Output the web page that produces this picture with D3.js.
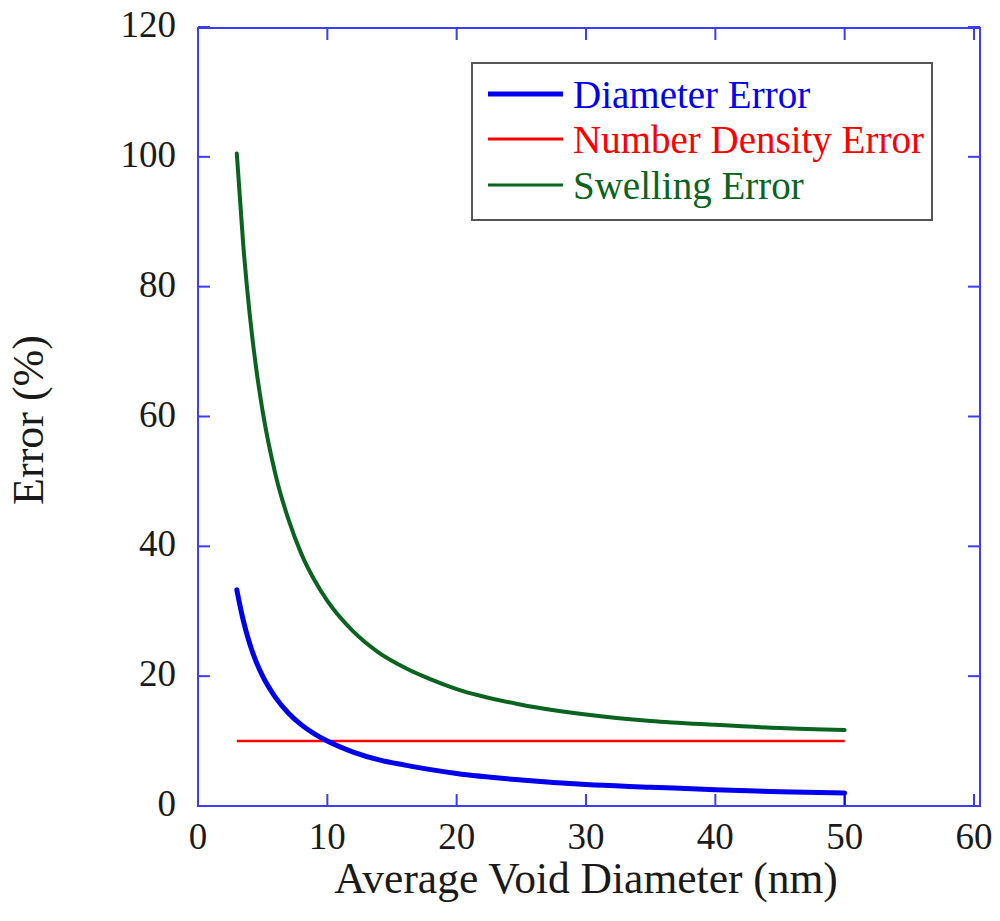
<!DOCTYPE html>
<html>
<head>
<meta charset="utf-8">
<script src="https://cdn.jsdelivr.net/npm/d3@7"></script>
<style>
  html, body { margin: 0; padding: 0; background: #fff; }
  svg { display: block; }
  text { font-family: "Liberation Serif", "Times New Roman", serif; }
</style>
</head>
<body>
<svg id="chart" width="1000" height="921"></svg>
<script>
// Average void diameter (nm)
const diameters = [3, 3.5, 4, 4.5, 5, 6, 7, 8, 9, 10, 12, 14, 16, 18, 20, 25, 30, 35, 40, 45, 50];
// Error in the measured diameter (%)
const diameterError = [33.3, 28.6, 25.0, 22.2, 20.0, 16.7, 14.3, 12.5, 11.1, 10.0, 8.3, 7.1, 6.3, 5.6, 5.0, 4.0, 3.3, 2.9, 2.5, 2.2, 2.0];
// Error in the number density (%)
const numberDensityError = [10, 10, 10, 10, 10, 10, 10, 10, 10, 10, 10, 10, 10, 10, 10, 10, 10, 10, 10, 10, 10];
// Combined error in the swelling (%)
const swellingError = [100.5, 86.4, 75.7, 67.4, 60.8, 51.0, 44.1, 38.8, 34.8, 31.6, 26.9, 23.6, 21.3, 19.5, 18.0, 15.6, 14.1, 13.1, 12.5, 12.0, 11.7];
// The diameter trace closes with a drop to the axis at its last diameter
const diameterTail = [[50, 2.0], [50, 0]];

const xTicks = [0, 10, 20, 30, 40, 50, 60];
const yTicks = [0, 20, 40, 60, 80, 100, 120];

const seriesNames = ["Diameter Error", "Number Density Error", "Swelling Error"];
const seriesColors = ["#0000f0", "#ff0000", "#0a6420"];

const svg = d3.select("#chart");

const frame = { left: 198, right: 980, top: 28, bottom: 806 };
const x = d3.scaleLinear().domain([0, 60]).range([198, 974]);
const y = d3.scaleLinear().domain([0, 120]).range([806, 27]);

const axisColor = "#3c3cff";
const tickLen = 12;

// Ticks on all four sides, pointing inward
const tickG = svg.append("g").attr("stroke", axisColor).attr("stroke-width", 2);
xTicks.forEach(t => {
  tickG.append("line").attr("x1", x(t)).attr("x2", x(t)).attr("y1", frame.bottom).attr("y2", frame.bottom - tickLen);
  tickG.append("line").attr("x1", x(t)).attr("x2", x(t)).attr("y1", frame.top).attr("y2", frame.top + tickLen);
});
yTicks.forEach(t => {
  tickG.append("line").attr("x1", frame.left).attr("x2", frame.left + tickLen).attr("y1", y(t)).attr("y2", y(t));
  tickG.append("line").attr("x1", frame.right).attr("x2", frame.right - tickLen).attr("y1", y(t)).attr("y2", y(t));
});

// Tick labels
svg.append("g").selectAll("text").data(xTicks).join("text")
  .attr("x", d => x(d)).attr("y", 849)
  .attr("text-anchor", "middle").attr("font-size", 37).attr("fill", "#1a1a1a")
  .text(d => d);
svg.append("g").selectAll("text").data(yTicks).join("text")
  .attr("x", 176).attr("y", d => y(d) + 10)
  .attr("text-anchor", "end").attr("font-size", 37).attr("fill", "#1a1a1a")
  .text(d => d);

// Axis titles
svg.append("text")
  .attr("x", 586).attr("y", 893)
  .attr("text-anchor", "middle").attr("font-size", 43.5).attr("fill", "#1a1a1a")
  .text("Average Void Diameter (nm)");
svg.append("text")
  .attr("transform", "translate(43,420) rotate(-90)")
  .attr("text-anchor", "middle").attr("font-size", 44).attr("fill", "#1a1a1a")
  .text("Error (%)");

// Data curves
const line = d3.line().x(d => x(d[0])).y(d => y(d[1])).curve(d3.curveMonotoneX);
const zip = vals => diameters.map((d, i) => [d, vals[i]]);

svg.append("path").datum(zip(swellingError))
  .attr("fill", "none").attr("stroke", seriesColors[2]).attr("stroke-width", 4)
  .attr("stroke-linejoin", "round").attr("stroke-linecap", "round")
  .attr("d", line);
svg.append("path").datum(zip(numberDensityError))
  .attr("fill", "none").attr("stroke", seriesColors[1]).attr("stroke-width", 2.5)
  .attr("d", line);
svg.append("path").datum(zip(diameterError))
  .attr("fill", "none").attr("stroke", seriesColors[0]).attr("stroke-width", 5)
  .attr("stroke-linejoin", "round").attr("stroke-linecap", "round")
  .attr("d", line);
svg.append("path").datum(diameterTail)
  .attr("fill", "none").attr("stroke", seriesColors[0]).attr("stroke-width", 2)
  .attr("d", d3.line().x(d => x(d[0])).y(d => y(d[1])));

// Plot frame
svg.append("rect")
  .attr("x", frame.left).attr("y", frame.top)
  .attr("width", frame.right - frame.left).attr("height", frame.bottom - frame.top)
  .attr("fill", "none").attr("stroke", axisColor).attr("stroke-width", 2);

// Legend
const legend = svg.append("g");
legend.append("rect")
  .attr("x", 472).attr("y", 63).attr("width", 460).attr("height", 157)
  .attr("fill", "#fff").attr("stroke", "#555").attr("stroke-width", 2);
const legendRows = [94, 139, 185];
const legendWidths = [5, 3, 3];
seriesNames.forEach((name, i) => {
  legend.append("line")
    .attr("x1", 488).attr("x2", 563).attr("y1", legendRows[i]).attr("y2", legendRows[i])
    .attr("stroke", seriesColors[i]).attr("stroke-width", legendWidths[i]);
  legend.append("text")
    .attr("x", 573).attr("y", legendRows[i] + 14)
    .attr("font-size", 39).attr("fill", seriesColors[i])
    .text(name);
});
</script>
</body>
</html>
